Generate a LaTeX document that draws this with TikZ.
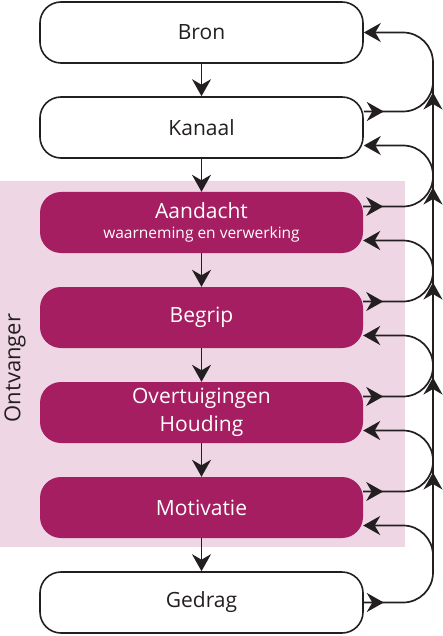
\documentclass[tikz,border=0pt]{standalone}
\usepackage{fontspec}
\setmainfont{Open Sans}
\usetikzlibrary{arrows.meta,decorations.markings,calc}
\definecolor{purp}{RGB}{166,30,98}
\definecolor{pinkbg}{RGB}{239,214,229}
\definecolor{ink}{RGB}{35,31,32}
\begin{document}
\begin{tikzpicture}[x=1pt,y=-1pt,
  box/.style={rectangle, rounded corners=21pt, minimum width=323pt, minimum height=61pt,
    inner sep=0pt, align=center, font=\fontsize{21}{28}\selectfont},
  plainbox/.style={box, draw=ink, line width=1.6pt, fill=white, text=ink},
  hibox/.style={box, fill=purp, text=white},
  conn/.style={draw=ink, line width=1.7pt},
  tipA/.tip={Stealth[length=17pt,width=19pt,inset=5.5pt]},
  loop/.style={conn, rounded corners=30pt, -tipA, postaction={decorate},
    decoration={markings, mark=at position 20pt with {\arrow{tipA}}}},
  down/.style={conn, -tipA},
]
\useasboundingbox (0,0) rectangle (443,636);
\fill[pinkbg] (0,181) rectangle (405,547);
\node[rotate=90, text=ink, font=\fontsize{22}{24}\selectfont] (ontv) at (15,368) {Ontvanger};

\node[plainbox] (bron) at (201.5,32.5) {Bron};
\node[plainbox] (kanaal) at (201.5,127.5) {Kanaal};
\node[hibox] (aand) at (201.5,222.5) {Aandacht\\[-8pt]{\fontsize{15.5}{17}\selectfont waarneming en verwerking}};
\node[hibox] (begrip) at (201.5,317.5) {Begrip};
\node[hibox] (overt) at (201.5,412.5) {Overtuigingen\\Houding};
\node[hibox] (motiv) at (201.5,507.5) {Motivatie};
\node[plainbox] (gedrag) at (201.5,602.5) {Gedrag};

\draw[down] (bron) -- (kanaal);
\draw[down] (kanaal) -- (aand);
\draw[down] (aand) -- (begrip);
\draw[down] (begrip) -- (overt);
\draw[down] (overt) -- (motiv);
\draw[down] (motiv) -- (gedrag);

\coordinate (rail) at (433,0);
\coordinate (bronI) at (bron.east);
\coordinate (kanO) at ([yshift=16pt]kanaal.east);
\coordinate (kanI) at ([yshift=-18pt]kanaal.east);
\coordinate (aandO) at ([yshift=16pt]aand.east);
\coordinate (aandI) at ([yshift=-18pt]aand.east);
\coordinate (begO) at ([yshift=16pt]begrip.east);
\coordinate (begI) at ([yshift=-18pt]begrip.east);
\coordinate (ovO) at ([yshift=16pt]overt.east);
\coordinate (ovI) at ([yshift=-18pt]overt.east);
\coordinate (moO) at ([yshift=16pt]motiv.east);
\coordinate (moI) at ([yshift=-18pt]motiv.east);
\coordinate (gedO) at (gedrag.east);

\draw[loop] (kanO) -- (kanO -| rail) -- (bronI -| rail) -- (bronI);
\draw[loop] (aandO) -- (aandO -| rail) -- (kanI -| rail) -- (kanI);
\draw[loop] (begO) -- (begO -| rail) -- (aandI -| rail) -- (aandI);
\draw[loop] (ovO) -- (ovO -| rail) -- (begI -| rail) -- (begI);
\draw[loop] (moO) -- (moO -| rail) -- (ovI -| rail) -- (ovI);
\draw[loop] (gedO) -- (gedO -| rail) -- (moI -| rail) -- (moI);

\coordinate (railbot) at (gedO -| rail);
\coordinate (railtop) at (bronI -| rail);
\draw[conn, postaction={decorate}, decoration={markings,
   mark=at position 100pt with {\arrow{tipA}},
   mark=at position 195pt with {\arrow{tipA}},
   mark=at position 290pt with {\arrow{tipA}},
   mark=at position 385pt with {\arrow{tipA}},
   mark=at position 480pt with {\arrow{tipA}}}]
  ([yshift=30pt]railbot) -- ([yshift=-30pt]railtop);
\end{tikzpicture}
\end{document}
